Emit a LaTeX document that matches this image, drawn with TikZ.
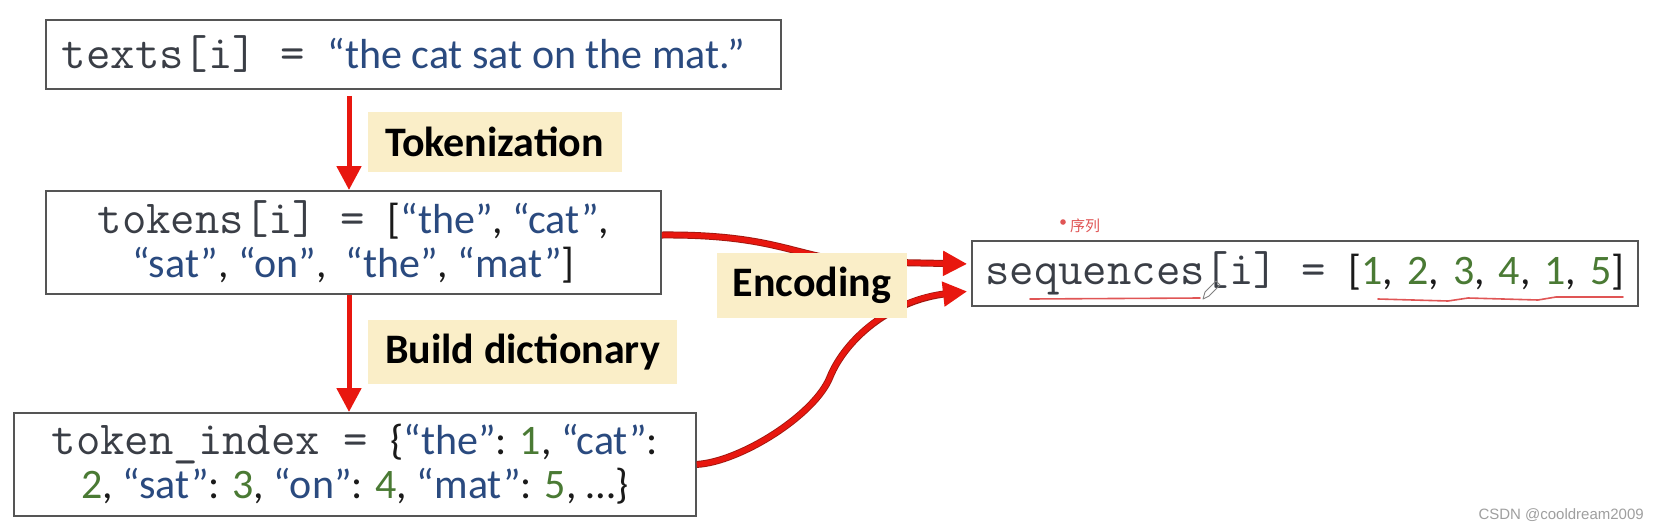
\documentclass[tikz,border=0pt]{standalone}
\usepackage{fontspec}
\setmainfont{Carlito}
\newfontfamily\cjkfam{Noto Sans CJK SC}
\newfontfamily\wmfam{Liberation Sans}
\usetikzlibrary{arrows.meta,calc}
\definecolor{tblue}{HTML}{2A4A7F}
\definecolor{tgreen}{HTML}{4A7A34}
\definecolor{mgray}{HTML}{3A3E46}
\definecolor{tdark}{HTML}{1A1A1A}
\definecolor{lblbg}{HTML}{FAEEC8}
\definecolor{ared}{HTML}{E8170F}
\definecolor{adark}{HTML}{A01810}
\definecolor{boxgray}{HTML}{555555}
\definecolor{ulred}{HTML}{E05555}
\newcommand\tb[1]{\textcolor{tblue}{#1}}
\newcommand\tg[1]{\textcolor{tgreen}{#1}}
\newcommand\msp{\hspace*{23pt}}
\newcommand\nsp{\hspace*{14pt}}
\newcommand\tm[1]{{\ttfamily\fontsize{47.4}{44}\selectfont\color{mgray}#1}}
\tikzset{
  box/.style={draw=boxgray, line width=1.8pt, fill=white, inner sep=0pt, text=tdark,
    font=\fontsize{42}{44}\selectfont},
  lbl/.style={fill=lblbg, inner sep=0pt, text=black, font=\fontsize{42}{42}\selectfont\bfseries},
  varrow/.style={draw=ared, line width=5pt, -{Triangle[width=24pt,length=24pt]}},
  curvunder/.style={draw=adark, line width=7pt, shorten >=20pt},
  curv/.style={draw=ared, line width=5.2pt, -{Triangle[width=24pt,length=24pt]}},
  ul/.style={draw=ulred, line width=1.6pt, line cap=round, line join=round}
}
\begin{document}
\begin{tikzpicture}[x=1pt,y=-1pt]
\fill[white] (0,0) rectangle (1658,531);
\useasboundingbox (0,0) rectangle (1658,531);

% boxes
\node[box, anchor=north west, minimum width=735, minimum height=69] (t1) at (45,19)
  {\tm{texts[i]\msp=\msp}\tb{“the cat sat on the mat.”}\hspace*{20pt}};
\node[box, anchor=north west, minimum width=615, minimum height=103, align=center] (t2) at (45,190)
  {\tm{tokens[i]\msp=\msp}[\tb{“the”}, \tb{“cat”},\\ \tb{“sat”}, \tb{“on”}, \ \tb{“the”}, \tb{“mat”}]};
\node[box, anchor=north west, minimum width=682, minimum height=103, align=center] (t3) at (13,412)
  {\tm{token\_index\msp=\msp}\{\tb{“the”}: \tg{1}, \tb{“cat”}:\\ \tg{2}, \tb{“sat”}: \tg{3}, \tb{“on”}: \tg{4}, \tb{“mat”}: \tg{5}, …\}};
\node[box, anchor=north west, minimum width=666, minimum height=65] (t4) at (971,240)
  {\tm{sequences[i]\msp=\msp}[\tg{1},\nsp\tg{2},\nsp\tg{3},\nsp\tg{4},\nsp\tg{1},\nsp\tg{5}]};

% vertical arrows
\coordinate (ax) at (349,0);
\draw[varrow, shorten <=6pt] (t1.south -| ax) -- (t2.north -| ax);
\draw[varrow] (t2.south -| ax) -- (t3.north -| ax);

% curved arrows
\draw[curvunder] ($(t2.north east)+(0,45)$) .. controls (785,234) and (800,262) .. (870,262) -- ($(t4.west)+(-4,-9.5)$);
\draw[curv] ($(t2.north east)+(0,45)$) .. controls (785,234) and (800,262) .. (870,262) -- ($(t4.west)+(-4,-9.5)$);
\draw[curvunder] (t3.east) .. controls (740,462) and (815,415) .. (830,377) .. controls (845,340) and (890,300) .. ($(t4.west)+(-4,18)$);
\draw[curv] (t3.east) .. controls (740,462) and (815,415) .. (830,377) .. controls (845,340) and (890,300) .. ($(t4.west)+(-4,18)$);

% labels
\node[lbl, minimum width=254, minimum height=60] (tok) at (494.5,142) {Tokenization};
\node[lbl, minimum width=309, minimum height=64] (bd) at (522.5,352) {Build dictionary};
\node[lbl, minimum width=190, minimum height=65] (enc) at (812,285.5) {Encoding};

% annotations
\fill[ulred] (1063,222) circle (2.8);
\node[font=\cjkfam\fontsize{15}{15}\selectfont, text=ulred, anchor=west, inner sep=0pt] (xl) at (1070,226) {序列};
\draw[ul] (1030,299) -- (1200,298);
\draw[ul] (1378,299) -- (1448,301) -- (1468,298) -- (1538,300) -- (1556,297) -- (1623,297);
\draw[gray, line width=0.9pt, line join=round] (1203,299) -- (1205,292) -- (1216,281) -- (1220,285) -- (1209,296) -- cycle;

% watermark
\node[font=\wmfam\fontsize{15}{15}\selectfont, text=gray!75, anchor=east, inner sep=0pt] (wm) at (1644,515) {CSDN @cooldream2009};
\end{tikzpicture}
\end{document}
